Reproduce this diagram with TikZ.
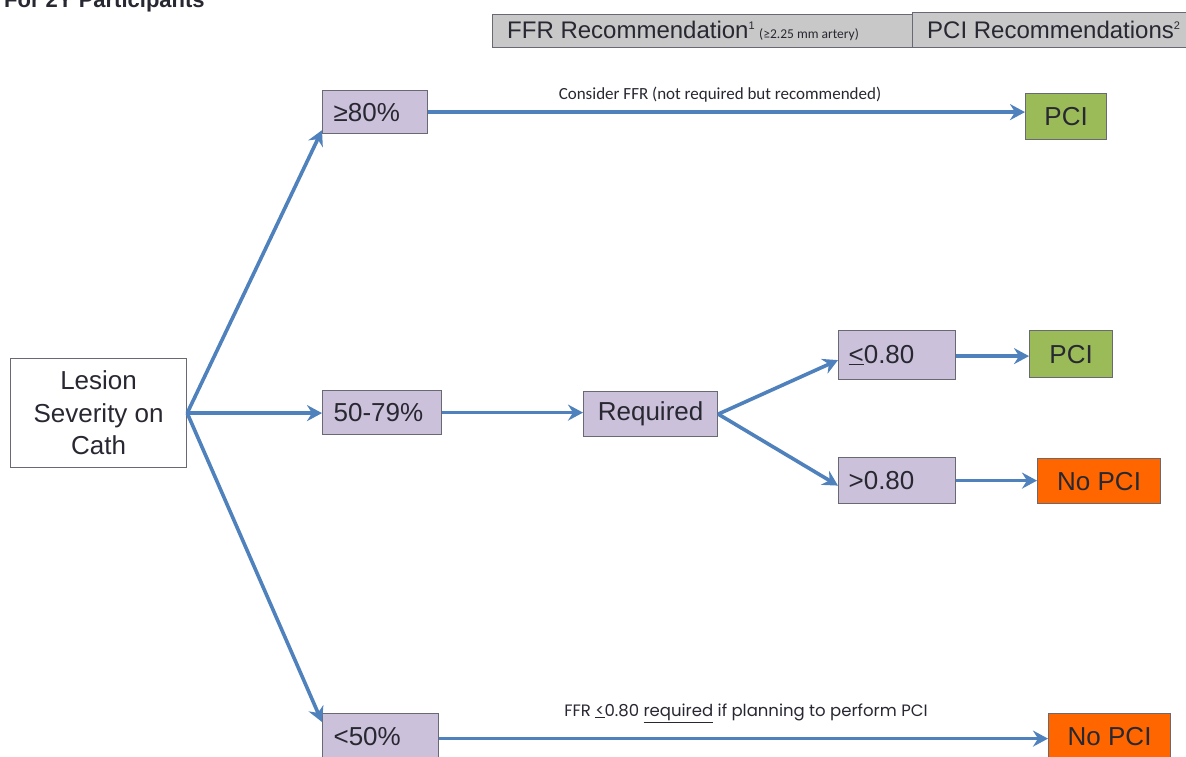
\documentclass[tikz,border=0pt]{standalone}
\usepackage{fontspec}
\setmainfont{Liberation Sans}
\newfontfamily\calib{Carlito}
\newfontfamily\geo{Poppins}
\usetikzlibrary{arrows.meta,calc}
\definecolor{lav}{RGB}{204,193,218}
\definecolor{bord}{RGB}{105,105,115}
\definecolor{pgreen}{RGB}{155,187,89}
\definecolor{porange}{RGB}{255,102,0}
\definecolor{hgray}{RGB}{200,200,200}
\definecolor{arrblue}{RGB}{79,129,189}
\definecolor{txt}{RGB}{40,40,50}
\tikzset{
  base/.style={draw=bord, line width=1.2pt, inner sep=0pt, anchor=north west, text=txt, font=\fontsize{26}{28}\selectfont},
  lavbox/.style={base, fill=lav, align=left, inner xsep=11pt},
  greenbox/.style={base, fill=pgreen},
  orangebox/.style={base, fill=porange},
  hdrbox/.style={draw=bord, line width=1.2pt, fill=hgray, inner sep=0pt, anchor=north west},
  hdrtext/.style={anchor=west, inner sep=0pt, text=txt, font=\fontsize{24}{26}\selectfont},
  conn/.style={draw=arrblue, line width=3.6pt, -{Stealth[length=15pt,width=16pt,inset=5pt]}},
  small/.style={font=\calib\fontsize{17}{19}\selectfont, text=txt, inner sep=0pt}
}
\begin{document}
\begin{tikzpicture}[x=1pt,y=-1pt]
\useasboundingbox (0,0) rectangle (1186,757);
\fill[white] (0,0) rectangle (1186,757);
% clipped title
\node[anchor=base west, font=\bfseries\fontsize{22}{24}\selectfont, text=txt, inner sep=0pt] (title) at (4,8) {For 2Y Participants};
% header
\node[hdrbox, minimum width=420pt, minimum height=33pt] (h1) at (492,14) {};
\node[hdrtext] (h1t) at (507,31) {FFR Recommendation\textsuperscript{\fontsize{11}{11}\selectfont1}\,{\calib\fontsize{13.5}{14}\selectfont(≥2.25 mm artery)}};
\node[hdrbox, minimum width=290pt, minimum height=35pt] (h2) at (912,12) {};
\node[hdrtext] (h2t) at (927,30) {PCI Recommendations\textsuperscript{\fontsize{11}{11}\selectfont2}};
% main nodes
\node[base, fill=white, minimum width=176pt, minimum height=109pt, align=center, font=\fontsize{26}{32.5}\selectfont] (les) at (10,358) {Lesion\\Severity on\\Cath};
\node[lavbox, minimum width=105pt, minimum height=43pt, text width=83pt] (g80) at (322,90) {≥80\%};
\node[lavbox, minimum width=119pt, minimum height=44pt, text width=97pt] (m50) at (322,390) {50-79\%};
\node[lavbox, minimum width=116pt, minimum height=46pt, text width=94pt] (l50) at (322,713) {<50\%};
\node[base, fill=lav, minimum width=134pt, minimum height=45pt] (req) at (583,391) {Required};
\node[lavbox, minimum width=117pt, minimum height=49pt, text width=97pt, inner xsep=10pt] (le) at (838,330) {\underline{<}0.80};
\node[lavbox, minimum width=117pt, minimum height=46pt, text width=97pt, inner xsep=10pt] (gt) at (838,457) {>0.80};
\node[greenbox, minimum width=81pt, minimum height=46pt] (pcit) at (1025,93) {PCI};
\node[greenbox, minimum width=83pt, minimum height=47pt] (pcim) at (1029,330) {PCI};
\node[orangebox, minimum width=123pt, minimum height=45pt] (npm) at (1037,458) {No PCI};
\node[orangebox, minimum width=122pt, minimum height=46pt] (npb) at (1048,713) {No PCI};
% connectors
\draw[conn] (les.east) -- ([yshift=4pt]g80.south west);
\draw[conn] (les.east) -- (les.east -| m50.west);
\draw[conn] (les.east) -- ([yshift=-9pt]l50.north west);
\draw[conn] (g80.east) -- (g80.east -| pcit.west);
\draw[conn] (m50.east) -- (m50.east -| req.west);
\draw[conn] (req.east) -- ([yshift=-5pt]le.west);
\draw[conn] (req.east) -- ([yshift=-5pt]gt.west);
\draw[conn] ([yshift=-1pt]le.east) -- ([yshift=-1pt]le.east -| pcim.west);
\draw[conn] (gt.east) -- (gt.east -| npm.west);
\draw[conn] ([yshift=-2pt]l50.east) -- ([yshift=-2pt]l50.east -| npb.west);
% labels
\node[small] (lab1) at (720,95) {Consider FFR (not required but recommended)};
\node[small, font=\geo\fontsize{16.5}{18}\selectfont] (lab2) at (746,713) {FFR \underline{<}0.80 \underline{required} if planning to perform PCI};
\end{tikzpicture}
\end{document}
